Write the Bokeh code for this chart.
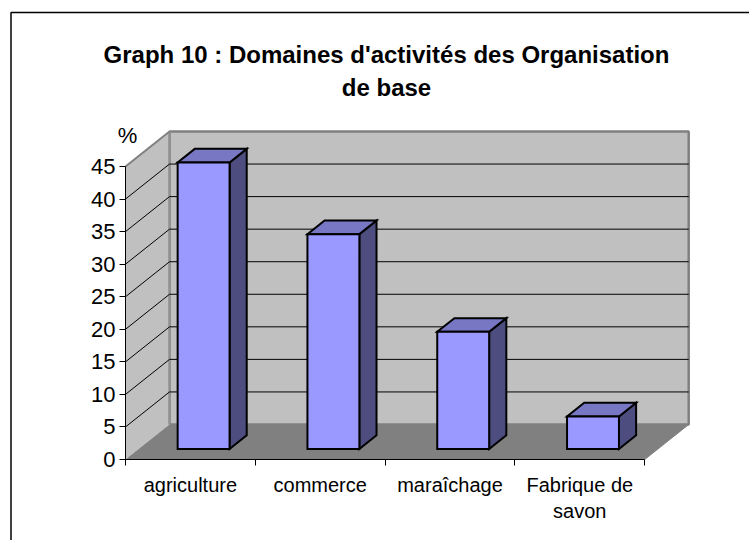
from bokeh.plotting import figure
from bokeh.models import Range1d, FixedTicker, LinearAxis, Label
from bokeh.embed import file_html
from bokeh.resources import INLINE

# ---------------- data ----------------
categories = ["agriculture", "commerce", "maraîchage", "Fabrique de\nsavon"]
values = [44, 33, 18, 5]
y_ticks = [0, 5, 10, 15, 20, 25, 30, 35, 40, 45]
title_lines = ["Graph 10 : Domaines d'activités des Organisation", "de base"]
y_unit = "%"

# ---------------- layout helpers ----------------
OFF = 0                 # page offset of the canvas
W, H = 749, 540
PX_CAT = 129.8          # pixels per category
PX_VAL = 6.511          # pixels per value unit
ORIG_X, ORIG_Y = 125, 459   # page position of the front origin
x0 = -(ORIG_X - OFF) / PX_CAT
x1 = x0 + W / PX_CAT
y0 = -(OFF + H - ORIG_Y) / PX_VAL
y1 = y0 + H / PX_VAL


def px(xp):
    return x0 + (xp - OFF) / PX_CAT


def py(yp):
    return y1 - (yp - OFF) / PX_VAL


DX = 44 / PX_CAT        # depth offset (category units)
DY = 35 / PX_VAL        # depth offset (value units)
YMAX = y_ticks[-1]
N = len(categories)
D0, D1 = 0.30, 0.69     # bar depth span (fraction of floor depth)
BW = 0.40               # bar width (fraction of category)

FONT = "Liberation Sans"

p = figure(width=W, height=H, x_range=Range1d(x0, x1), y_range=Range1d(y0, y1),
           output_backend="svg", toolbar_location=None, min_border=0,
           outline_line_color=None, background_fill_color="white",
           border_fill_color="white")
p.grid.visible = False

# floor
p.patch([0, N, N + DX, DX], [0, 0, DY, DY], fill_color="#808080", line_color="#808080", line_width=1)
# back wall
p.patch([DX, N + DX, N + DX, DX], [DY, DY, DY + YMAX, DY + YMAX],
        fill_color="#C0C0C0", line_color="#808080", line_width=2.5)
# side wall
p.patch([0, DX, DX, 0], [0, DY, DY + YMAX, YMAX], fill_color="#C0C0C0", line_color=None)
p.line([DX, DX], [DY, DY + YMAX], line_color="#909090", line_width=2.5)
p.line([0, DX], [YMAX, DY + YMAX], line_color="#808080", line_width=2)

# gridlines on back wall and side wall
grid_vals = [v for v in y_ticks if 0 < v < YMAX]
p.segment(x0=[DX] * len(grid_vals), y0=[DY + v for v in grid_vals],
          x1=[N + DX] * len(grid_vals), y1=[DY + v for v in grid_vals],
          line_color="black", line_width=1)
p.segment(x0=[0] * len(grid_vals), y0=grid_vals,
          x1=[DX] * len(grid_vals), y1=[DY + v for v in grid_vals],
          line_color="black", line_width=1)

# bars
front_l, front_r, front_b, front_t = [], [], [], []
top_xs, top_ys, side_xs, side_ys = [], [], [], []
for i, v in enumerate(values):
    L = i + 0.5 - BW / 2
    R = i + 0.5 + BW / 2
    fx, fy = D0 * DX, D0 * DY
    bx, by = D1 * DX, D1 * DY
    front_l.append(L + fx); front_r.append(R + fx)
    front_b.append(fy); front_t.append(fy + v)
    top_xs.append([L + fx, R + fx, R + bx, L + bx])
    top_ys.append([fy + v, fy + v, by + v, by + v])
    side_xs.append([R + fx, R + bx, R + bx, R + fx])
    side_ys.append([fy, by, by + v, fy + v])

p.patches(side_xs, side_ys, fill_color="#4D4D80", line_color="black", line_width=2, line_join="miter")
p.patches(top_xs, top_ys, fill_color="#7777C4", line_color="black", line_width=2, line_join="miter")
p.quad(left=front_l, right=front_r, bottom=front_b, top=front_t,
       fill_color="#9999FF", line_color="black", line_width=2, line_join="miter")

# y axis
ya = p.yaxis[0]
ya.fixed_location = 0
ya.bounds = (0, YMAX)
ya.ticker = FixedTicker(ticks=y_ticks)
ya.minor_tick_line_color = None
ya.major_tick_in = 0
ya.major_tick_out = 6
ya.major_label_standoff = 4
ya.major_label_text_font = FONT
ya.major_label_text_font_size = "22px"
ya.major_label_text_color = "black"
ya.axis_line_color = "black"
ya.major_tick_line_color = "black"

# x axis (tick marks at category boundaries)
xa = p.xaxis[0]
xa.fixed_location = 0
xa.bounds = (0, N)
xa.ticker = FixedTicker(ticks=list(range(N + 1)))
xa.major_label_overrides = {i: "" for i in range(N + 1)}
xa.minor_tick_line_color = None
xa.major_tick_in = 0
xa.major_tick_out = 6
xa.axis_line_color = "black"
xa.major_tick_line_color = "black"

# category labels
centers = [i + 0.5 for i in range(N)]
ca = LinearAxis(fixed_location=0, bounds=(0, N), ticker=FixedTicker(ticks=centers),
                major_label_overrides={c: lab for c, lab in zip(centers, categories)},
                axis_line_color=None, major_tick_line_color=None, minor_tick_line_color=None,
                major_tick_in=0, major_tick_out=0, major_label_standoff=14,
                major_label_text_font=FONT, major_label_text_font_size="20px",
                major_label_text_color="black")
p.add_layout(ca, "below")

# unit label
p.add_layout(Label(x=px(127), y=py(135), text=y_unit, text_align="center",
                   text_baseline="alphabetic", text_font=FONT, text_font_size="22px",
                   text_color="black"))

# title
for line, base in zip(title_lines, [54, 87]):
    p.add_layout(Label(x=px(386), y=py(base), text=line, text_align="center",
                       text_baseline="alphabetic", text_font=FONT, text_font_size="24px",
                       text_font_style="bold", text_color="black"))

# outer chart border (left and top edges visible)
p.line([px(10.5), px(10.5), px(760)], [py(560), py(12), py(12)], line_color="black", line_width=1.5)

open("out.html", "w").write(file_html(p, INLINE))
